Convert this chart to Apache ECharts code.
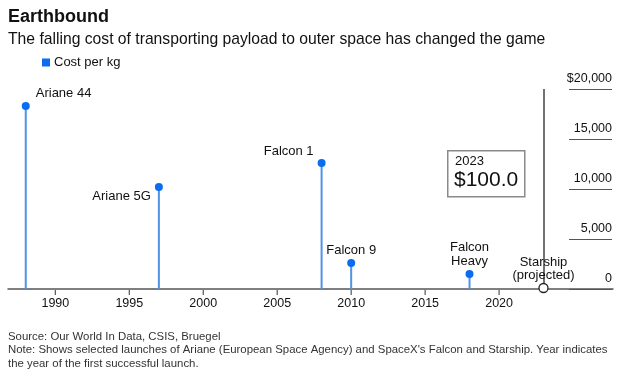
<!DOCTYPE html>
<html>
<head>
<meta charset="utf-8">
<script src="https://cdn.jsdelivr.net/npm/echarts@6/dist/echarts.min.js"></script>
<style>
  html, body { margin: 0; padding: 0; background: #fff; }
  #chart { width: 624px; height: 376px; }
</style>
</head>
<body>
<div id="chart"></div>
<script>
  const launches = ["Ariane 44", "Ariane 5G", "Falcon 1", "Falcon 9", "Falcon\nHeavy"];
  const years = [1988, 1997, 2008, 2010, 2018];
  const costPerKg = [18300, 10200, 12600, 2600, 1500];
  const projectedName = "Starship\n(projected)";
  const projectedYear = 2023;
  const projectedCost = 100;
  const yearTicks = [1990, 1995, 2000, 2005, 2010, 2015, 2020];
  const costTicks = [0, 5000, 10000, 15000, 20000];

  // label placement per launch: [position, align, distance, dx, dy]
  const labelPlace = [
    ["right", "left", 6, 0, -13],
    ["left", "right", 6, 2, 9],
    ["left", "right", 6, 2, -12],
    ["top", "center", 1, 0, 0],
    ["top", "center", 1, 0, 0]
  ];

  const blue = "#0a6cf0";
  const stemBlue = "#4f93e6";
  const ink = "#111";
  const font = "'Liberation Sans', Arial, sans-serif";

  const chart = echarts.init(document.getElementById("chart"));

  const dots = years.map((year, i) => ({
    value: [year, costPerKg[i]],
    name: launches[i],
    label: { position: labelPlace[i][0], align: labelPlace[i][1], distance: labelPlace[i][2] }
  }));

  chart.setOption({
    animation: false,
    textStyle: { fontFamily: font },
    title: [
      { text: "Earthbound", left: 8, top: 8, padding: 0, textStyle: { fontSize: 18, fontWeight: "bold", color: ink, fontFamily: font } },
      { text: "The falling cost of transporting payload to outer space has changed the game", left: 8, top: 32, padding: 0,
        textStyle: { fontSize: 15.7, fontWeight: "normal", color: ink, fontFamily: font } },
      { text: "Source: Our World In Data, CSIS, Bruegel\nNote: Shows selected launches of Ariane (European Space Agency) and SpaceX's Falcon and Starship. Year indicates\nthe year of the first successful launch.",
        left: 8, top: 330, padding: 0, textStyle: { fontSize: 11.4, lineHeight: 13.5, fontWeight: "normal", color: "#333", fontFamily: font } }
    ],
    legend: {
      left: 37, top: 51, itemWidth: 8, itemHeight: 8, itemGap: 6,
      icon: "rect",
      data: [{ name: "Cost per kg", itemStyle: { color: blue, opacity: 1 } }],
      textStyle: { fontSize: 13, color: ink, padding: [0, 0, 0, -1] }
    },
    grid: [
      { left: 8, right: 11, top: 89, bottom: 87 },
      { left: 569, right: 12, top: 89, bottom: 87 }
    ],
    xAxis: [
      {
        type: "value", gridIndex: 0, min: 1986.8, max: 2027.7,
        axisLine: { show: true, lineStyle: { color: "#555", width: 1.5 } },
        axisTick: { show: false },
        axisLabel: { customValues: yearTicks, fontSize: 12.5, color: ink, margin: 8, formatter: (v) => String(v) },
        splitLine: { show: false }
      },
      { type: "value", gridIndex: 1, show: false }
    ],
    yAxis: [
      { type: "value", gridIndex: 0, min: 0, max: 20000, show: false },
      {
        type: "value", gridIndex: 1, min: 0, max: 20000, interval: 5000, position: "right",
        axisLine: { show: false }, axisTick: { show: false },
        axisLabel: {
          inside: true, verticalAlign: "bottom", margin: 0, fontSize: 12.5, color: ink, padding: [0, 0, 4, 0],
          customValues: costTicks,
          formatter: (v) => v === 20000 ? "$20,000" : v.toLocaleString("en-US")
        },
        splitLine: { show: true, lineStyle: { color: "#555", width: 1.2 } }
      }
    ],
    series: [
      {
        name: "Cost per kg", type: "bar", xAxisIndex: 0, yAxisIndex: 0,
        data: years.map((year, i) => [year, costPerKg[i]]),
        barWidth: 2, itemStyle: { color: stemBlue }, silent: true,
        markLine: {
          symbol: "none", silent: true, label: { show: false },
          lineStyle: { color: "#444", width: 1.5, type: "solid" },
          data: [[{ coord: [projectedYear, 0] }, { coord: [projectedYear, 20000] }]]
        }
      },
      {
        // year tick marks below the axis line
        name: "ticks", type: "scatter", xAxisIndex: 0, yAxisIndex: 0, silent: true,
        data: yearTicks.map((year) => [year, 0]),
        symbol: "rect", symbolSize: [1.2, 5], symbolOffset: [0, 3.5],
        itemStyle: { color: "#555", opacity: 1 }, clip: false, z: 1
      },
      {
        name: "Cost per kg", type: "scatter", xAxisIndex: 0, yAxisIndex: 0,
        data: dots, symbolSize: 8, itemStyle: { color: blue, opacity: 1 }, z: 5,
        label: { show: true, formatter: (p) => p.name, fontSize: 13, lineHeight: 14.5, color: ink },
        labelLayout: (p) => ({ dx: labelPlace[p.dataIndex][3], dy: labelPlace[p.dataIndex][4], hideOverlap: false })
      },
      {
        name: "Starship", type: "scatter", xAxisIndex: 0, yAxisIndex: 0,
        data: [{ value: [projectedYear, projectedCost], name: projectedName }],
        symbolSize: 9, z: 6,
        itemStyle: { color: "#fff", borderColor: "#222", borderWidth: 1.3, opacity: 1 },
        label: { show: true, position: "top", align: "center", formatter: (p) => p.name, fontSize: 13, lineHeight: 13.5, color: ink, distance: 0.5 }
      }
    ],
    graphic: [
      {
        type: "rect", left: 447, top: 150,
        shape: { width: 77, height: 46 },
        style: { fill: "#fff", stroke: "#8a8a8a", lineWidth: 1.5 }
      },
      { type: "text", left: 455, top: 155, style: { text: "2023", fontSize: 13, fill: ink, fontFamily: font } },
      { type: "text", left: 454, top: 170, style: { text: "$100.0", fontSize: 21, fill: ink, fontFamily: font } }
    ]
  });
</script>
</body>
</html>
